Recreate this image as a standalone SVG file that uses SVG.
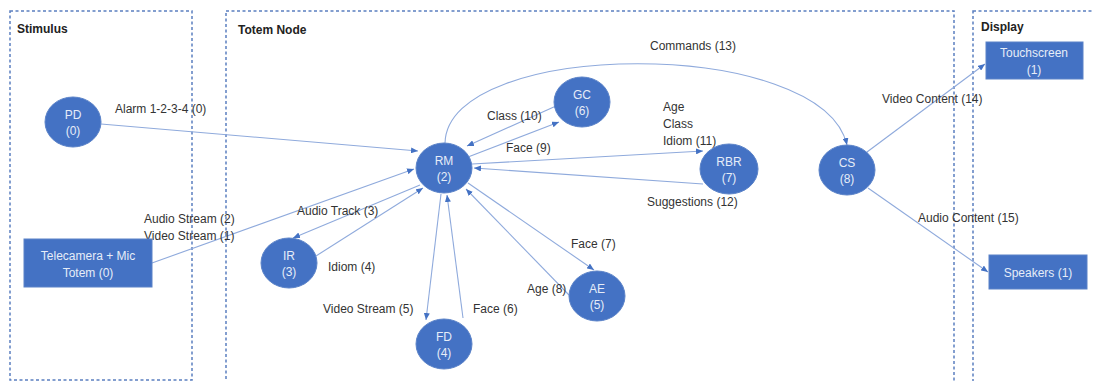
<svg xmlns="http://www.w3.org/2000/svg" width="1093" height="381" viewBox="0 0 1093 381">
<defs>
<style>
.zone{fill:none;stroke:#5b7fc0;stroke-width:1.5;stroke-dasharray:3 2.5}
.title{font-family:"Liberation Sans",Arial,sans-serif;font-size:12px;font-weight:bold;fill:#222}
.node{fill:#4472C4;stroke:#5a82c8;stroke-width:1}
.nt{font-family:"Liberation Sans",Arial,sans-serif;font-size:12px;fill:#e6edf8;text-anchor:middle}
.lbl{font-family:"Liberation Sans",Arial,sans-serif;font-size:12px;fill:#333}
.edge{fill:none;stroke:#8faadc;stroke-width:1.1;marker-end:url(#arr)}
</style>
<marker id="arr" markerUnits="userSpaceOnUse" markerWidth="8" markerHeight="6" refX="7" refY="3" orient="auto">
<path d="M0,0 L7,3 L0,6 z" fill="#4472C4"/>
</marker>
</defs>
<rect width="1093" height="381" fill="#fff"/>
<g id="zones">
<rect class="zone" x="10" y="11" width="182" height="369"/>
<rect class="zone" x="226" y="11" width="728" height="380"/>
<rect class="zone" x="973" y="11" width="130" height="380"/>
<text class="title" x="17" y="33">Stimulus</text>
<text class="title" x="238" y="34">Totem Node</text>
<text class="title" x="981" y="31">Display</text>
</g>
<g id="connectors">
<line class="edge" x1="101" y1="124" x2="418" y2="151"/>
<line class="edge" x1="152" y1="263" x2="414" y2="169"/>
<line class="edge" x1="420" y1="185" x2="293" y2="238"/>
<line class="edge" x1="316" y1="256" x2="423" y2="188"/>
<line class="edge" x1="441" y1="194" x2="426" y2="320"/>
<line class="edge" x1="463" y1="318" x2="447" y2="195"/>
<line class="edge" x1="468" y1="183" x2="594" y2="270"/>
<line class="edge" x1="569" y1="295" x2="466" y2="189"/>
<line class="edge" x1="468" y1="157" x2="559" y2="122"/>
<line class="edge" x1="556" y1="106" x2="467" y2="146"/>
<line class="edge" x1="472" y1="164" x2="703" y2="151"/>
<line class="edge" x1="703" y1="184" x2="474" y2="168"/>
<path class="edge" d="M445,143 C448,38 822,36 847,145"/>
<line class="edge" x1="867" y1="152" x2="985" y2="64"/>
<line class="edge" x1="868" y1="188" x2="988" y2="272"/>
<text class="lbl" x="115" y="113">Alarm 1-2-3-4 (0)</text>
<text class="lbl" x="144" y="223">Audio Stream (2)</text>
<text class="lbl" x="144" y="240">Video Stream (1)</text>
<text class="lbl" x="297" y="215">Audio Track (3)</text>
<text class="lbl" x="328" y="271">Idiom (4)</text>
<text class="lbl" x="323" y="313">Video Stream (5)</text>
<text class="lbl" x="473" y="313">Face (6)</text>
<text class="lbl" x="571" y="248">Face (7)</text>
<text class="lbl" x="527" y="293">Age (8)</text>
<text class="lbl" x="506" y="152">Face (9)</text>
<text class="lbl" x="487" y="120">Class (10)</text>
<text class="lbl" x="663" y="111">Age</text>
<text class="lbl" x="663" y="128">Class</text>
<text class="lbl" x="663" y="145">Idiom (11)</text>
<text class="lbl" x="647" y="206">Suggestions (12)</text>
<text class="lbl" x="650" y="50">Commands (13)</text>
<text class="lbl" x="882" y="103">Video Content (14)</text>
<text class="lbl" x="918" y="222">Audio Content (15)</text>
</g>
<g id="PD"><ellipse class="node" cx="73" cy="122" rx="28" ry="25"/><text class="nt" x="73" y="119">PD</text><text class="nt" x="73" y="135">(0)</text></g>
<g id="Telecamera"><rect class="node" x="24" y="239" width="128" height="48"/><text class="nt" x="88" y="260">Telecamera + Mic</text><text class="nt" x="88" y="277">Totem (0)</text></g>
<g id="RM"><ellipse class="node" cx="444" cy="168" rx="28" ry="25"/><text class="nt" x="444" y="165">RM</text><text class="nt" x="444" y="181">(2)</text></g>
<g id="IR"><ellipse class="node" cx="289" cy="263" rx="28" ry="25"/><text class="nt" x="289" y="260">IR</text><text class="nt" x="289" y="276">(3)</text></g>
<g id="FD"><ellipse class="node" cx="444" cy="344" rx="28" ry="25"/><text class="nt" x="444" y="341">FD</text><text class="nt" x="444" y="357">(4)</text></g>
<g id="AE"><ellipse class="node" cx="597" cy="296" rx="28" ry="25"/><text class="nt" x="597" y="293">AE</text><text class="nt" x="597" y="309">(5)</text></g>
<g id="GC"><ellipse class="node" cx="582" cy="102" rx="28" ry="25"/><text class="nt" x="582" y="99">GC</text><text class="nt" x="582" y="115">(6)</text></g>
<g id="RBR"><ellipse class="node" cx="729" cy="169" rx="29" ry="25"/><text class="nt" x="729" y="166">RBR</text><text class="nt" x="729" y="182">(7)</text></g>
<g id="CS"><ellipse class="node" cx="847" cy="170" rx="28" ry="25"/><text class="nt" x="847" y="167">CS</text><text class="nt" x="847" y="183">(8)</text></g>
<g id="Touchscreen"><rect class="node" x="986" y="42" width="97" height="37"/><text class="nt" x="1034" y="57">Touchscreen</text><text class="nt" x="1034" y="74">(1)</text></g>
<g id="Speakers"><rect class="node" x="989" y="255" width="98" height="34"/><text class="nt" x="1038" y="277">Speakers (1)</text></g>
</svg>
